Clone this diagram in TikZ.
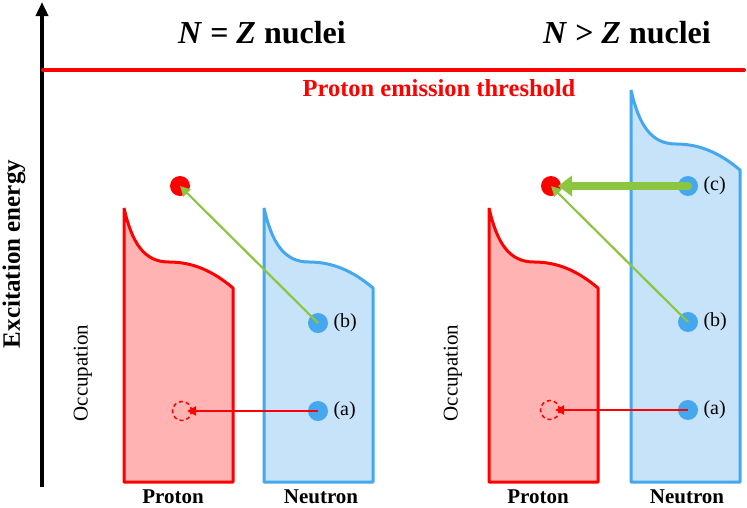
\documentclass[tikz,border=0pt]{standalone}
\usepackage{fontspec}
\setmainfont{Liberation Serif}
\usetikzlibrary{arrows.meta,calc}
\definecolor{pred}{HTML}{FF0000}
\definecolor{pfill}{HTML}{FFB3B3}
\definecolor{nblue}{HTML}{45A8EE}
\definecolor{nfill}{HTML}{C6E3F9}
\definecolor{dotblue}{HTML}{45A8EE}
\definecolor{lgreen}{HTML}{8CC540}
\newcommand{\fermiShape}[4]{%
  \draw[line width=3pt,line join=bevel,draw=#3,fill=#4] (#1,#2)
    .. controls ($(#1,#2)+(8,35)$) and ($(#1,#2)+(20,54)$) .. ($(#1,#2)+(45,54)$)
    .. controls ($(#1,#2)+(70,54)$) and ($(#1,#2)+(90,64)$) .. ($(#1,#2)+(109,80)$)
    -- ($(#1,482)+(109,0)$) -- (#1,482) -- cycle;}
\tikzset{
  title/.style={font=\fontsize{32}{36}\selectfont\bfseries},
  panel/.style={font=\fontsize{21}{24}\selectfont\bfseries},
  occ/.style={font=\fontsize{21}{24}\selectfont, rotate=90},
  lab/.style={font=\fontsize{20}{24}\selectfont, anchor=west},
  pdot/.style={circle, fill=pred, minimum size=20pt, inner sep=0pt},
  ndot/.style={circle, fill=dotblue, minimum size=20pt, inner sep=0pt},
  hole/.style={circle, draw=pred, dashed, dash pattern=on 4pt off 3pt, line width=1.5pt, minimum size=19pt, inner sep=0pt},
  thin green/.style={draw=lgreen, line width=2.2pt, -{Triangle[length=10pt,width=10pt]}},
  thick green/.style={draw=lgreen, line width=8pt, line cap=round, -{Triangle[length=14pt,width=20pt]}},
  red arrow/.style={draw=pred, line width=2pt, -{Triangle[length=9pt,width=9pt]}, shorten >=5pt},
}
\begin{document}
\begin{tikzpicture}[x=1pt,y=-1pt]
\useasboundingbox (0,0) rectangle (747,507);
% axis
\coordinate (axb) at (42,487);
\coordinate (axt) at (42,2);
\draw[line width=4.5pt,-{Triangle[length=14pt,width=12pt]}] (axb) -- (axt);
\node[font=\fontsize{25}{28}\selectfont\bfseries, rotate=90] (ylab) at (14,254) {Excitation energy};
% threshold
\coordinate (thl) at (43,70);
\coordinate (thr) at (744,70);
\draw[pred, line width=4pt, line cap=round] (thl) -- (thr);
\node[font=\fontsize{24.5}{28}\selectfont\bfseries, text=pred] (thr-lab) at (439,88) {Proton emission threshold};
% titles
\node[title] (t1) at (262,33) {\textit{N} = \textit{Z} nuclei};
\node[title] (t2) at (627,33) {\textit{N} > \textit{Z} nuclei};
% shapes
\fermiShape{124}{208}{pred}{pfill}
\fermiShape{264}{208}{nblue}{nfill}
\fermiShape{489}{208}{pred}{pfill}
\fermiShape{631}{90}{nblue}{nfill}
% occupation labels
\node[occ] (occ1) at (83,373) {Occupation};
\node[occ] (occ2) at (453,373) {Occupation};
% panel labels
\node[panel] (p1) at (173,497) {Proton};
\node[panel] (n1) at (321,497) {Neutron};
\node[panel] (p2) at (538,497) {Proton};
\node[panel] (n2) at (687,497) {Neutron};
% left panel dots
\node[pdot] (r1) at (180,186) {};
\node[ndot] (b1) at (318,323) {};
\node[ndot] (a1) at (318,411) {};
\node[hole] (h1) at (182,411) {};
\node[lab] (lb1) at (330,323) {(b)};
\node[lab] (la1) at (330,411) {(a)};
\draw[thin green] (b1.center) -- (r1.center);
\draw[red arrow] (a1.center) -- (h1.center);
% right panel dots
\node[pdot] (r2) at (551,186) {};
\node[ndot] (c2) at (688,186) {};
\node[ndot] (b2) at (688,322) {};
\node[ndot] (a2) at (688,410) {};
\node[hole] (h2) at (550,410) {};
\node[lab] (lc2) at (700,186) {(c)};
\node[lab] (lb2) at (700,322) {(b)};
\node[lab] (la2) at (700,410) {(a)};
\coordinate (r2end) at ($(r2.center)+(7,0)$);
\draw[thick green] (c2.center) -- (r2end);
\draw[thin green] (b2.center) -- (r2.center);
\draw[red arrow] (a2.center) -- (h2.center);
\end{tikzpicture}
\end{document}
